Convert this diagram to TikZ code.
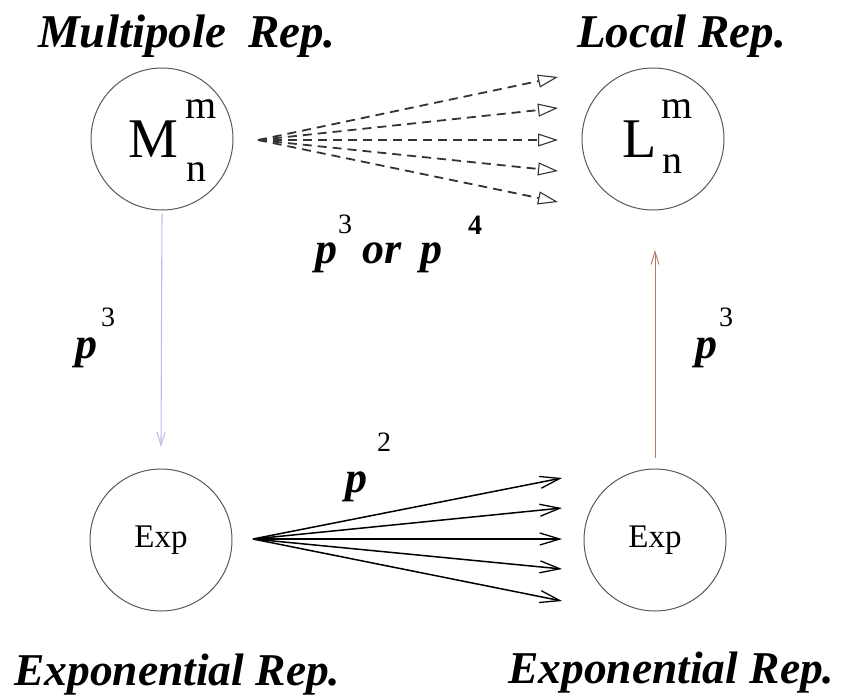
\documentclass[tikz,border=0pt]{standalone}
\usepackage{fontspec}
\setmainfont{Liberation Serif}
\usetikzlibrary{arrows.meta}
\begin{document}
\begin{tikzpicture}[x=1pt,y=-1pt,
  rep/.style={circle, draw=black!65, line width=1pt, minimum size=142pt, inner sep=0pt,
    font=\fontsize{33}{36}\selectfont},
  title/.style={font=\fontsize{47}{52}\selectfont\bfseries\itshape, inner sep=0pt, anchor=base west},
  plab/.style={font=\fontsize{44}{48}\selectfont\bfseries\itshape, inner sep=0pt, anchor=base west},
  digit/.style={font=\fontsize{28}{30}\selectfont, inner sep=0pt, anchor=north west},
  big/.style={font=\fontsize{56}{60}\selectfont, inner sep=0pt, anchor=base west},
  idx/.style={font=\fontsize{40}{42}\selectfont, inner sep=0pt, anchor=base west},
  dashfan/.style={draw=black!80, line width=1.8pt, dash pattern=on 9pt off 6pt,
    -{Triangle[open, length=20pt, width=13pt, line width=1.1pt]}},
  solidfan/.style={draw=black, line width=1.5pt,
    -{Straight Barb[length=20pt, width=12pt, line width=1.3pt]}},
  vleft/.style={draw={rgb,255:red,200;green,185;blue,230}, line width=1.1pt,
    -{Straight Barb[length=13pt, width=8pt]}},
  vright/.style={draw={rgb,255:red,175;green,125;blue,105}, line width=0.9pt,
    -{Straight Barb[length=13pt, width=8pt]}}
]
\useasboundingbox (0,0) rectangle (842,698);

% titles
\node[title] (tM) at (38,48) {Multipole\hspace{22pt}Rep.};
\node[title] (tL) at (577,48) {Local Rep.};
\node[title, font=\fontsize{45.5}{50}\selectfont\bfseries\itshape] (tE1) at (14,685) {Exponential Rep.};
\node[title, font=\fontsize{45.5}{50}\selectfont\bfseries\itshape] (tE2) at (508,683) {Exponential Rep.};

% circles
\node[rep] (M) at (162,139) {};
\node[rep] (L) at (653,139) {};
\node[rep] (E1) at (161,540) {Exp};
\node[rep] (E2) at (655,540) {Exp};

% circle contents
\node[big] (Mt) at (128,157) {M};
\node[idx] (Mm) at (185,118) {m};
\node[idx] (Mn) at (186,181) {n};
\node[big] (Lt) at (622,157) {L};
\node[idx] (Lm) at (661,118) {m};
\node[idx] (Ln) at (662,173) {n};

% dashed fan
\coordinate (fanM) at (258,140);
\coordinate (d1) at (558,77);
\coordinate (d2) at (558,108);
\coordinate (d3) at (558,140);
\coordinate (d4) at (558,171);
\coordinate (d5) at (558,202);
\foreach \t in {d1,d2,d3,d4,d5} \draw[dashfan] (fanM) -- (\t);

% solid fan
\coordinate (fanE) at (253,539);
\coordinate (s1) at (562,478);
\coordinate (s2) at (562,508);
\coordinate (s3) at (562,539);
\coordinate (s4) at (562,569);
\coordinate (s5) at (562,601);
\foreach \t in {s1,s2,s3,s4,s5} \draw[solidfan] (fanE) -- (\t);

% vertical arrows
\coordinate (vL) at (161,447);
\draw[vleft, shorten <=3pt] (M.south) -- (vL);
\coordinate (vR0) at (655,458);
\coordinate (vR1) at (655,250);
\draw[vright] (vR0) -- (vR1);

% labels
\node[plab] (pL) at (75,358) {p};
\node[digit] (pL3) at (101,308) {3};
\node[plab] (pR) at (695,358) {p};
\node[digit] (pR3) at (719,308) {3};
\node[plab] (pm1) at (315,263) {p};
\node[digit] (pm3) at (338,215) {3};
\node[plab] (por) at (362,263) {or};
\node[plab] (pm2) at (420,263) {p};
\node[digit,font=\fontsize{28}{30}\selectfont\bfseries] (pm4) at (468,216) {4};
\node[plab] (p2) at (345,492) {p};
\node[digit] (p22) at (377,433) {2};
\end{tikzpicture}
\end{document}
